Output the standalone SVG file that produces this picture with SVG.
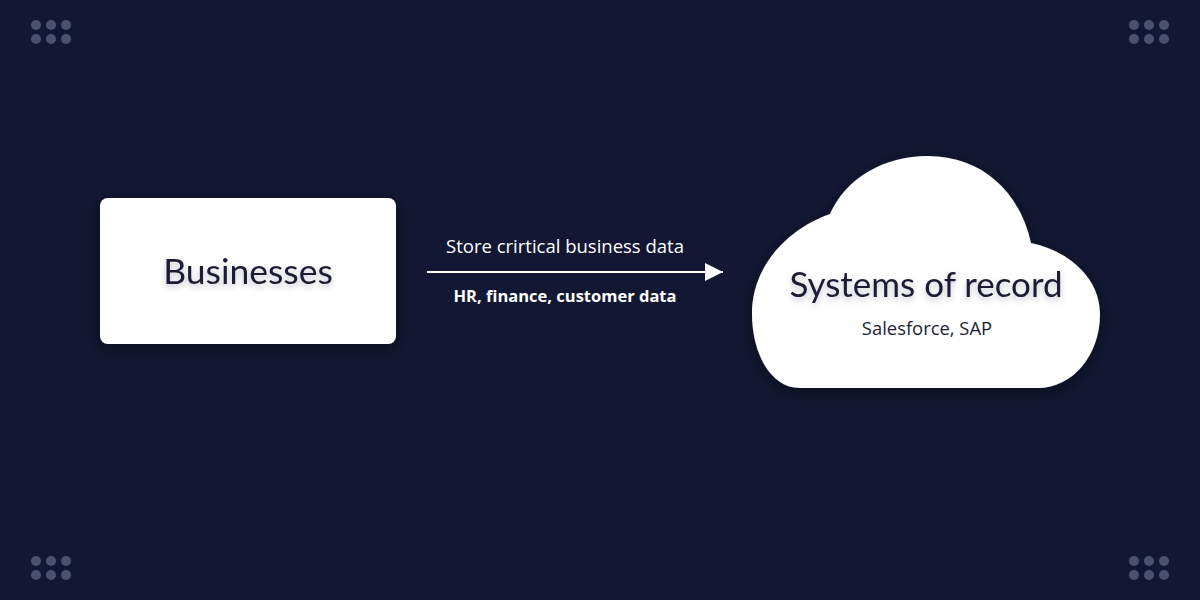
<svg xmlns="http://www.w3.org/2000/svg" width="1200" height="600" viewBox="0 0 1200 600">
  <defs>
    <filter id="shadow" x="-20%" y="-20%" width="140%" height="150%">
      <feDropShadow dx="0" dy="4" stdDeviation="8" flood-color="#000000" flood-opacity="0.45"/>
    </filter>
    <filter id="tshadow" x="-10%" y="-30%" width="120%" height="180%">
      <feDropShadow dx="0" dy="3" stdDeviation="3" flood-color="#1a1d33" flood-opacity="0.25"/>
    </filter>
    <marker id="arrow" viewBox="0 0 18 18" refX="18" refY="9" markerWidth="18" markerHeight="18" markerUnits="userSpaceOnUse" orient="auto">
      <path d="M0,0 L18,9 L0,18 Z" fill="#ffffff"/>
    </marker>
    <style>
      .dot { fill: #4b5170; }
      .node { fill: #ffffff; filter: url(#shadow); }
      .title { font-family: Lato, "Open Sans", "Liberation Sans", sans-serif; fill: #1b1e35; text-anchor: middle; filter: url(#tshadow); }
      .sub { font-family: "Open Sans", "Noto Sans", "Liberation Sans", sans-serif; fill: #1b1e35; text-anchor: middle; font-size: 18.4px; }
      .lbl { font-family: "Open Sans", "Noto Sans", "Liberation Sans", sans-serif; fill: #ffffff; text-anchor: middle; }
    </style>
  </defs>
  <rect width="1200" height="600" fill="#121833"/>
  <g id="dots">
    <g id="dots-tl"><circle class="dot" cx="36" cy="25" r="5"/><circle class="dot" cx="51" cy="25" r="5"/><circle class="dot" cx="66" cy="25" r="5"/><circle class="dot" cx="36" cy="39" r="5"/><circle class="dot" cx="51" cy="39" r="5"/><circle class="dot" cx="66" cy="39" r="5"/></g>
    <g id="dots-tr"><circle class="dot" cx="1134" cy="25" r="5"/><circle class="dot" cx="1149" cy="25" r="5"/><circle class="dot" cx="1164" cy="25" r="5"/><circle class="dot" cx="1134" cy="39" r="5"/><circle class="dot" cx="1149" cy="39" r="5"/><circle class="dot" cx="1164" cy="39" r="5"/></g>
    <g id="dots-bl"><circle class="dot" cx="36" cy="561" r="5"/><circle class="dot" cx="51" cy="561" r="5"/><circle class="dot" cx="66" cy="561" r="5"/><circle class="dot" cx="36" cy="575" r="5"/><circle class="dot" cx="51" cy="575" r="5"/><circle class="dot" cx="66" cy="575" r="5"/></g>
    <g id="dots-br"><circle class="dot" cx="1134" cy="561" r="5"/><circle class="dot" cx="1149" cy="561" r="5"/><circle class="dot" cx="1164" cy="561" r="5"/><circle class="dot" cx="1134" cy="575" r="5"/><circle class="dot" cx="1149" cy="575" r="5"/><circle class="dot" cx="1164" cy="575" r="5"/></g>
  </g>
  <g id="connectors">
    <line x1="427" y1="272" x2="723" y2="272" stroke="#ffffff" stroke-width="2" marker-end="url(#arrow)"/>
    <text class="lbl" x="565" y="253" font-size="18.5">Store crirtical business data</text>
    <text class="lbl" x="565" y="302" font-size="16.5" font-weight="bold">HR, finance, customer data</text>
  </g>
  <g id="businesses">
    <rect class="node" x="100" y="198" width="296" height="146" rx="8"/>
    <text class="title" x="248" y="284" font-size="35.5">Businesses</text>
  </g>
  <g id="systems-of-record">
    <path class="node" d="M 800 388 C 770 388, 752 352, 752 314 C 752 264, 790 228, 830 214 C 846 178, 884 156, 928 156 C 982 156, 1020 192, 1031 243 C 1072 252, 1100 280, 1100 314 C 1100 356, 1072 388, 1038 388 Z"/>
    <text class="title" x="926" y="297" font-size="35">Systems of record</text>
    <text class="sub" x="927" y="335">Salesforce, SAP</text>
  </g>
</svg>
